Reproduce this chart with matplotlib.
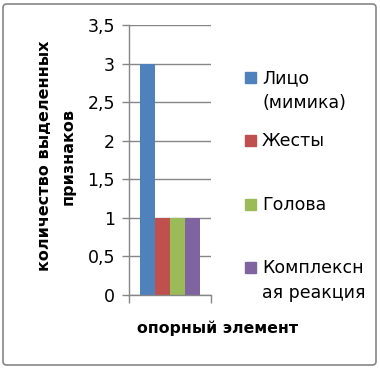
import matplotlib.pyplot as plt
from matplotlib.patches import FancyBboxPatch, Rectangle

series = ['Лицо\n(мимика)', 'Жесты', 'Голова', 'Комплексн\nая реакция']
values = [3, 1, 1, 1]
colors = ['#4F81BD', '#C0504D', '#9BBB59', '#8064A2']
yticks = [0, 0.5, 1, 1.5, 2, 2.5, 3, 3.5]
ytick_labels = ['0', '0,5', '1', '1,5', '2', '2,5', '3', '3,5']

# legend layout (pixel baselines of each entry's first line, as in Excel)
legend_baselines = [83, 146, 210, 273]

plt.rcParams['font.family'] = ['DejaVu Sans']

W, H = 380, 368
fig = plt.figure(figsize=(W / 100, H / 100), dpi=100)

# outer chart border
fig.patches.append(FancyBboxPatch((3 / W, 3 / H), 373 / W, 361 / H,
                                  boxstyle='round,pad=0,rounding_size=0.01',
                                  transform=fig.transFigure, fill=False,
                                  edgecolor='#868686', linewidth=1.2))

ax = fig.add_axes([129 / W, 1 - 295 / H, 82 / W, 270 / H])
width = 0.18
n = len(values)
for i, (lab, v, c) in enumerate(zip(series, values, colors)):
    ax.bar((i - (n - 1) / 2) * width, v, width, color=c, label=lab, zorder=2)

ax.set_xlim(-0.5, 0.5)
ax.set_ylim(0, 3.5)
ax.set_yticks(yticks)
ax.set_yticklabels(ytick_labels, fontsize=12.5)
ax.set_xticks([-0.5, 0.5])
ax.set_xticklabels([])
ax.tick_params(axis='x', length=6, color='#868686', width=1)
ax.tick_params(axis='y', length=5, color='#868686', width=1, pad=5)
ax.grid(axis='y', color='#868686', linewidth=1, zorder=0)
for s in ['top', 'right']:
    ax.spines[s].set_visible(False)
for s in ['left', 'bottom']:
    ax.spines[s].set_color('#868686')
    ax.spines[s].set_linewidth(1)

fig.text(56 / W, 1 - 156 / H, 'количество выделенных\nпризнаков', rotation=90,
         ha='center', va='center', fontsize=11.5, fontweight='bold',
         linespacing=1.7)
fig.text(218 / W, 1 - 328 / H, 'опорный элемент', ha='center', va='center',
         fontsize=11.3, fontweight='bold')

# legend drawn like Excel: marker aligned with first text line
for lab, c, yb in zip(series, colors, legend_baselines):
    fig.patches.append(Rectangle((245 / W, 1 - yb / H), 11 / W, 11 / H,
                                 transform=fig.transFigure, color=c))
    first, *rest = lab.split('\n')
    fig.text(262 / W, 1 - yb / H, first, ha='left', va='baseline', fontsize=12.5)
    for k, line in enumerate(rest, start=1):
        fig.text(262 / W, 1 - (yb + 25 * k) / H, line, ha='left',
                 va='baseline', fontsize=12.5)

plt.savefig('out.png', dpi=100)
